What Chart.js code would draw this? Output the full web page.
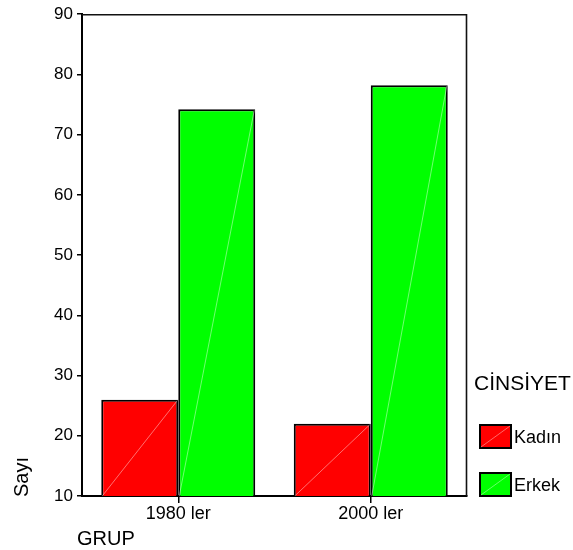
<!DOCTYPE html>
<html>
<head>
<meta charset="utf-8">
<script src="https://cdn.jsdelivr.net/npm/chart.js@4"></script>
<style>
  html, body { margin:0; padding:0; background:#fff; }
  #wrap { width:573px; height:550px; position:relative; }
</style>
</head>
<body>
<div id="wrap"><canvas id="chart"></canvas></div>
<script>
// data
const categories = ['1980 ler', '2000 ler'];
const kadin = [26.0, 22.0];
const erkek = [74.2, 78.2];
const seriesNames = ['Kadın', 'Erkek'];
const yTicks = [10, 20, 30, 40, 50, 60, 70, 80, 90];

const FONT = '"Liberation Sans", Arial, Helvetica, sans-serif';
const RED = '#ff0000', GREEN = '#00ff00';

// frame, faint diagonals, axis titles and legend
const decor = {
  id: 'decor',
  afterDatasetsDraw(chart){
    const ctx = chart.ctx, a = chart.chartArea;
    ctx.save();
    ctx.beginPath();
    ctx.rect(a.left, a.top, a.right - a.left, a.bottom - a.top);
    ctx.clip();
    ctx.strokeStyle = 'rgba(255,255,255,0.55)';
    ctx.lineWidth = 0.8;
    chart.data.datasets.forEach((ds, i) => {
      chart.getDatasetMeta(i).data.forEach(bar => {
        const p = bar.getProps(['x','y','width'], true);
        ctx.beginPath();
        ctx.moveTo(p.x - p.width/2 + 1, a.bottom);
        ctx.lineTo(p.x + p.width/2 - 1, p.y + 1);
        ctx.stroke();
      });
    });
    ctx.restore();
  },
  afterDraw(chart){
    const ctx = chart.ctx, a = chart.chartArea;
    ctx.save();
    // top + right frame
    ctx.strokeStyle = '#111';
    ctx.lineWidth = 1.6;
    ctx.beginPath();
    ctx.moveTo(a.left, a.top + 0.5);
    ctx.lineTo(a.right - 0.5, a.top + 0.5);
    ctx.lineTo(a.right - 0.5, a.bottom);
    ctx.stroke();

    ctx.fillStyle = '#000';
    // y title
    ctx.save();
    ctx.translate(28, 497);
    ctx.rotate(-Math.PI/2);
    ctx.font = '20px ' + FONT;
    ctx.textAlign = 'left';
    ctx.textBaseline = 'alphabetic';
    ctx.fillText('Sayı', 0, 0);
    ctx.restore();
    // x title
    ctx.font = '20px ' + FONT;
    ctx.textAlign = 'left';
    ctx.textBaseline = 'middle';
    ctx.fillText('GRUP', 77, 539);

    // legend
    ctx.font = '21px ' + FONT;
    ctx.fillText('CİNSİYET', 474, 384);
    const colors = [RED, GREEN];
    const rows = [425, 473];
    ctx.font = '18px ' + FONT;
    seriesNames.forEach((name, i) => {
      const y = rows[i];
      ctx.fillStyle = colors[i];
      ctx.fillRect(480, y, 31, 23);
      ctx.strokeStyle = '#000';
      ctx.lineWidth = 2;
      ctx.strokeRect(480, y, 31, 23);
      ctx.strokeStyle = 'rgba(255,255,255,0.5)';
      ctx.lineWidth = 0.8;
      ctx.beginPath();
      ctx.moveTo(481, y + 22);
      ctx.lineTo(510, y + 1);
      ctx.stroke();
      ctx.fillStyle = '#000';
      ctx.fillText(name, 514, y + 13);
    });
    ctx.restore();
  }
};

new Chart(document.getElementById('chart'), {
  type: 'bar',
  data: {
    labels: categories,
    datasets: [
      { label: seriesNames[0], data: kadin, backgroundColor: RED, borderColor: '#000', borderWidth: 2 },
      { label: seriesNames[1], data: erkek, backgroundColor: GREEN, borderColor: '#000', borderWidth: 2 }
    ]
  },
  options: {
    responsive: true,
    maintainAspectRatio: false,
    animation: false,
    layout: { padding: { left: 0, top: 12, right: 106, bottom: 0 } },
    datasets: { bar: { categoryPercentage: 0.8, barPercentage: 1.0 } },
    plugins: { legend: { display: false }, tooltip: { enabled: false } },
    scales: {
      x: {
        afterFit(s){ s.height = 54; },
        grid: { offset: false, drawOnChartArea: false, color: '#000', tickLength: 7, lineWidth: 1.5 },
        border: { color: '#000', width: 2 },
        ticks: { color: '#000', font: { family: FONT, size: 18 }, padding: 0 }
      },
      y: {
        min: yTicks[0],
        max: yTicks[yTicks.length - 1],
        afterFit(s){ s.width = 82; },
        afterBuildTicks(s){ s.ticks = yTicks.map(v => ({ value: v })); },
        grid: { drawOnChartArea: false, color: '#000', tickLength: 5, lineWidth: 1.5 },
        border: { color: '#000', width: 2 },
        ticks: { color: '#000', font: { family: FONT, size: 17 }, padding: 4 }
      }
    }
  },
  plugins: [decor]
});
</script>
</body>
</html>
